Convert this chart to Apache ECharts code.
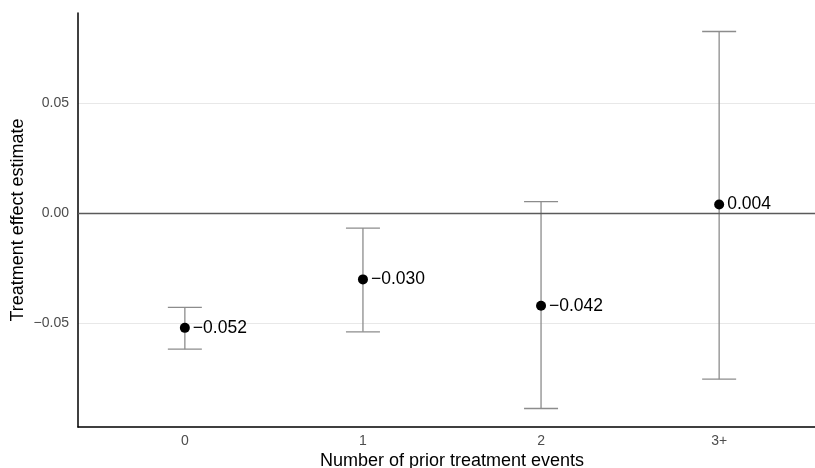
<!DOCTYPE html>
<html>
<head>
<meta charset="utf-8">
<script src="https://cdn.jsdelivr.net/npm/echarts@6/dist/echarts.min.js"></script>
<style>html,body{margin:0;padding:0;background:#fff}#c{width:815px;height:468px}</style>
</head>
<body>
<div id="c"></div>
<script>
var categories = ['0', '1', '2', '3+'];
var estimates = [-0.052, -0.030, -0.042, 0.004];
var lowerCI = [-0.0617, -0.0538, -0.0886, -0.0753];
var upperCI = [-0.0427, -0.0067, 0.0053, 0.0825];
var yTicks = [-0.05, 0, 0.05];
var yTickLabels = ['\u22120.05', '0.00', '0.05'];
var xTitle = 'Number of prior treatment events';
var yTitle = 'Treatment effect estimate';

function fmtEst(v) {
  var s = Math.abs(v).toFixed(3);
  return (v < 0 ? '\u2212' : '') + s;
}

var FONT = '"Liberation Sans", Arial, Helvetica, sans-serif';
var chart = echarts.init(document.getElementById('c'), null, {renderer: 'canvas'});

var pointData = estimates.map(function (v, i) { return [i, v]; });
var barData = categories.map(function (c, i) { return [i, lowerCI[i], upperCI[i]]; });

chart.setOption({
  animation: false,
  backgroundColor: '#ffffff',
  grid: {left: 78, top: 13, width: 748, height: 414, containLabel: false, outerBoundsMode: 'none'},
  xAxis: {
    type: 'value',
    min: -0.6, max: 3.6,
    name: xTitle,
    nameLocation: 'middle',
    nameGap: 25,
    nameMoveOverlap: false,
    nameTextStyle: {color: '#000', fontSize: 18, fontFamily: FONT},
    axisLine: {show: true, onZero: false, lineStyle: {color: '#000', width: 1.5}},
    axisTick: {show: false, customValues: [0, 1, 2, 3]},
    axisLabel: {
      customValues: [0, 1, 2, 3],
      formatter: function (v) { return categories[Math.round(v)]; },
      color: '#4d4d4d', fontSize: 14, fontFamily: FONT, margin: 7
    },
    splitLine: {show: false}
  },
  yAxis: {
    type: 'value',
    min: -0.097, max: 0.0909,
    name: yTitle,
    nameLocation: 'middle',
    nameGap: 51,
    nameMoveOverlap: false,
    nameRotate: 90,
    nameTextStyle: {color: '#000', fontSize: 18, fontFamily: FONT},
    axisLine: {show: true, onZero: false, lineStyle: {color: '#000', width: 1.5}},
    axisTick: {show: false, customValues: yTicks},
    axisLabel: {
      customValues: yTicks,
      formatter: function (v) {
        for (var i = 0; i < yTicks.length; i++) if (Math.abs(v - yTicks[i]) < 1e-9) return yTickLabels[i];
        return '';
      },
      color: '#4d4d4d', fontSize: 14, fontFamily: FONT, margin: 9
    },
    splitLine: {show: true, lineStyle: {color: '#e8e8e8', width: 1}}
  },
  series: [
    {
      type: 'custom',
      data: barData,
      z: 2,
      renderItem: function (params, api) {
        var x = api.value(0);
        var lo = api.coord([x, api.value(1)]);
        var hi = api.coord([x, api.value(2)]);
        var cap = 17;
        var st = {stroke: '#8c8c8c', lineWidth: 1.3};
        return {
          type: 'group',
          children: [
            {type: 'line', shape: {x1: lo[0], y1: lo[1], x2: hi[0], y2: hi[1]}, style: st},
            {type: 'line', shape: {x1: lo[0] - cap, y1: lo[1], x2: lo[0] + cap, y2: lo[1]}, style: st},
            {type: 'line', shape: {x1: hi[0] - cap, y1: hi[1], x2: hi[0] + cap, y2: hi[1]}, style: st}
          ]
        };
      },
      markLine: {
        silent: true,
        symbol: 'none',
        label: {show: false},
        lineStyle: {color: '#5a5a5a', width: 1.3, type: 'solid'},
        data: [{yAxis: 0}]
      }
    },
    {
      type: 'scatter',
      data: pointData,
      z: 3,
      symbol: 'circle',
      symbolSize: 10,
      itemStyle: {color: '#000', opacity: 1},
      label: {
        show: true,
        position: 'right',
        distance: 3,
        formatter: function (p) { return fmtEst(p.value[1]); },
        color: '#000', fontSize: 17.5, fontFamily: FONT
      }
    }
  ]
});
</script>
</body>
</html>
